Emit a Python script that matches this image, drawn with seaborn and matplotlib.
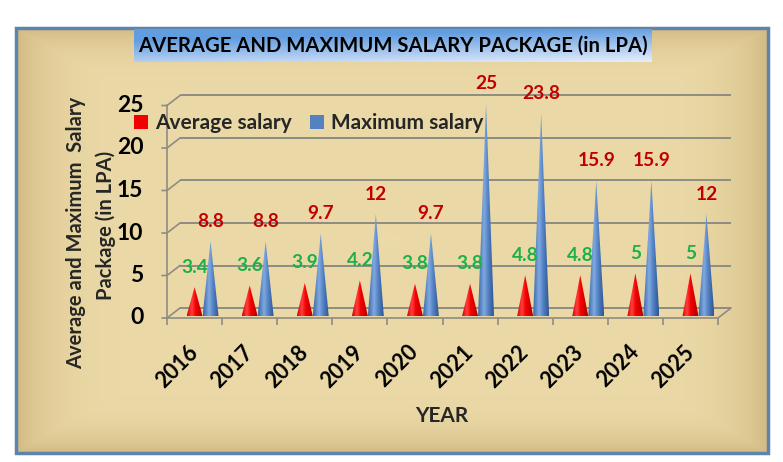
import numpy as np
import pandas as pd
import matplotlib
matplotlib.use("Agg")
import matplotlib.pyplot as plt
import seaborn as sns
from matplotlib.patches import Polygon, Rectangle, Patch
from matplotlib.colors import LinearSegmentedColormap, to_rgb

# ---------------- data ----------------
years = ["2016", "2017", "2018", "2019", "2020", "2021", "2022", "2023", "2024", "2025"]
avg_salary = [3.4, 3.6, 3.9, 4.2, 3.8, 3.8, 4.8, 4.8, 5, 5]
max_salary = [8.8, 8.8, 9.7, 12, 9.7, 25, 23.8, 15.9, 15.9, 12]
series_names = ["Average salary", "Maximum salary"]
y_ticks = [0, 5, 10, 15, 20, 25]
title = "AVERAGE AND MAXIMUM SALARY PACKAGE (in LPA)"
ylabel_1 = "Average and Maximum  Salary"
ylabel_2 = "Package (in LPA)"
xlabel = "YEAR"

# ---------------- style ----------------
RED = "#F00000"
BLUE = "#5481C0"
RED_LABEL = "#C00000"
GREEN_LABEL = "#1DB04A"
GRID = "#8E8C82"
FRAME = "#5F84AC"

sns.set_theme(style="white")
plt.rcParams["font.family"] = ["Lato", "DejaVu Sans"]

W, H = 783, 462
fig = plt.figure(figsize=(W / 100, H / 100), dpi=100)
fig.patch.set_facecolor("white")


def fx(px):
    return px / W


def fy(py):
    return 1 - py / H


# ---------------- parchment background ----------------
bg = fig.add_axes([fx(16), fy(453), fx(768) - fx(16), fy(28) - fy(453)], zorder=-2)
gx, gy = np.meshgrid(np.linspace(-1, 1, 300), np.linspace(-1, 1, 200))
edge = np.clip(np.maximum(np.abs(gx) ** 10, np.abs(gy) ** 10), 0, 1)
c_in = np.array(to_rgb("#EBDAA8"))
c_out = np.array(to_rgb("#D4BB84"))
img = c_in[None, None, :] * (1 - edge[..., None]) + c_out[None, None, :] * edge[..., None]
bg.imshow(img, aspect="auto", extent=(0, 1, 0, 1))
bg.set_axis_off()
fig.patches.append(Rectangle((fx(16), fy(453)), fx(768) - fx(16), fy(28) - fy(453),
                             transform=fig.transFigure, fill=False, edgecolor=FRAME,
                             lw=2.5, zorder=-1))

# ---------------- title box ----------------
tax = fig.add_axes([fx(134), fy(62), fx(652) - fx(134), fy(29) - fy(62)], zorder=1)
tx, ty = np.meshgrid(np.linspace(0, 1, 300), np.linspace(0, 1, 60))
s = np.clip(0.85 * ty + 0.35 * tx - 0.3, 0, 1)
c_b = np.array(to_rgb("#629DE0"))
c_w = np.array(to_rgb("#F6F7FF"))
timg = c_b[None, None, :] * (1 - s[..., None]) + c_w[None, None, :] * s[..., None]
tax.imshow(timg, aspect="auto", extent=(0, 1, 0, 1))
tax.set_axis_off()
tax.text(0.5, 0.48, title, ha="center", va="center", fontsize=14.6, fontweight="bold",
         color="black", transform=tax.transAxes)

# ---------------- main axes ----------------
ax = fig.add_axes([fx(167), fy(316), fx(718) - fx(167), fy(103.5) - fy(316)], zorder=1)
ax.patch.set_alpha(0)

df = pd.DataFrame({
    "year": years * 2,
    "value": avg_salary + max_salary,
    "series": [series_names[0]] * len(years) + [series_names[1]] * len(years),
})
sns.barplot(data=df, x="year", y="value", hue="series", hue_order=series_names,
            palette=[RED, BLUE], width=0.58, errorbar=None, legend=False, ax=ax)

ax.set_xlim(-0.5, 9.5)
ax.set_ylim(0, 25)
for sp in ax.spines.values():
    sp.set_visible(False)
ax.grid(False)

# pixel -> data helpers
p0 = ax.transData.transform((0, 0))
px_x = ax.transData.transform((1, 0))[0] - p0[0]
px_y = ax.transData.transform((0, 1))[1] - p0[1]


def dx(px):
    return px / px_x


def dy(px):
    return px / px_y


FRONT = -dy(2)
BACK_DX, BACK_DY = dx(13), dy(10)
SHIFT = dx(8)

# back wall gridlines
for v in y_ticks:
    ax.plot([-0.5 + BACK_DX, 9.5 + BACK_DX], [v + FRONT + BACK_DY] * 2, color=GRID, lw=1.4,
            clip_on=False, zorder=1, solid_capstyle="butt")
    ax.plot([-0.5 - dx(5), -0.5, -0.5 + BACK_DX], [v + FRONT, v + FRONT, v + FRONT + BACK_DY],
            color=GRID, lw=1.2, clip_on=False, zorder=1)
# left wall edge and floor
ax.plot([-0.5, -0.5], [FRONT, 25 + FRONT], color=GRID, lw=1.2, clip_on=False, zorder=1)
ax.plot([-0.5, 9.5, 9.5 + BACK_DX], [FRONT, FRONT, FRONT + BACK_DY], color=GRID, lw=1.2,
        clip_on=False, zorder=1)
ax.vlines(np.arange(-0.5, 10, 1.0), FRONT - dy(7), FRONT, color=GRID, lw=1.2,
          clip_on=False, zorder=1)

# cones built from seaborn bar geometry
cmaps = [
    LinearSegmentedColormap.from_list("r", [(0, "#D00000"), (0.3, "#FF4040"), (0.55, "#F40000"), (1, "#B00000")]),
    LinearSegmentedColormap.from_list("b", [(0, "#3A68AB"), (0.38, "#80A9E0"), (0.62, "#5684C5"), (1, "#2C5694")]),
]
grad = np.linspace(0, 1, 64)[None, :]
e = dy(2.5)
tt = np.linspace(0, -np.pi, 24)
centers = [[], []]
for si, cont in enumerate(ax.containers):
    for bar in cont:
        x0 = bar.get_x() + SHIFT
        w = bar.get_width()
        h = bar.get_height()
        bar.set_visible(False)
        xc = x0 + w / 2
        verts = [(xc, h)] + [(xc + w / 2 * np.cos(t), e * np.sin(t)) for t in tt]
        poly = Polygon(verts, closed=True, facecolor="none", edgecolor="none",
                       transform=ax.transData)
        im = ax.imshow(grad, cmap=cmaps[si], aspect="auto", extent=(x0, x0 + w, -e, h),
                       origin="lower", zorder=3, interpolation="bilinear")
        im.set_clip_on(True)
        im.set_clip_path(poly)
        im.set_clip_box(None)
        centers[si].append((xc, h))

ax.set_xlim(-0.5, 9.5)
ax.set_ylim(0, 25)

# data labels
for (xc, h), v in zip(centers[0], avg_salary):
    ax.annotate(f"{v:g}", xy=(xc, h), xytext=(0, 14.4), textcoords="offset points",
                ha="center", va="center", color=GREEN_LABEL, fontsize=13.8,
                fontweight="bold", zorder=5, annotation_clip=False)
for (xc, h), v in zip(centers[1], max_salary):
    ax.annotate(f"{v:g}", xy=(xc, h), xytext=(0, 14.4), textcoords="offset points",
                ha="center", va="center", color=RED_LABEL, fontsize=13.8,
                fontweight="bold", zorder=5, annotation_clip=False)

# ticks
ax.set_yticks(y_ticks)
ax.set_yticklabels([str(t) for t in y_ticks], fontsize=16.5, fontweight="bold", color="black")
ax.tick_params(axis="y", length=0, pad=17)
ax.set_xticks(range(len(years)))
ax.set_xticklabels(years, fontsize=15.5, fontweight="bold", color="black")
ax.tick_params(axis="x", length=0, pad=23.5)
plt.setp(ax.get_xticklabels(), rotation=45, ha="right", va="center", rotation_mode="anchor")
ax.set_xlabel("")
ax.set_ylabel("")

# axis titles
fig.text(fx(442), fy(416), xlabel, ha="center", va="center", fontsize=15, fontweight="bold")
fig.text(fx(76), fy(233), ylabel_1, rotation=90, ha="center", va="center", fontsize=14.5,
         fontweight="bold")
fig.text(fx(106), fy(225), ylabel_2, rotation=90, ha="center", va="center", fontsize=14.5,
         fontweight="bold")

# legend
handles = [Patch(facecolor=RED, edgecolor="none"), Patch(facecolor=BLUE, edgecolor="none")]
leg = fig.legend(handles, series_names, loc="upper left", bbox_to_anchor=(fx(134), fy(113)),
                 ncol=2, frameon=False, handlelength=0.65, handleheight=0.65,
                 handletextpad=0.35, columnspacing=0.9, borderpad=0, borderaxespad=0,
                 prop={"family": ["Lato", "DejaVu Sans"], "size": 15, "weight": "bold"})
leg.set_zorder(6)

fig.savefig("out.png", dpi=100)
